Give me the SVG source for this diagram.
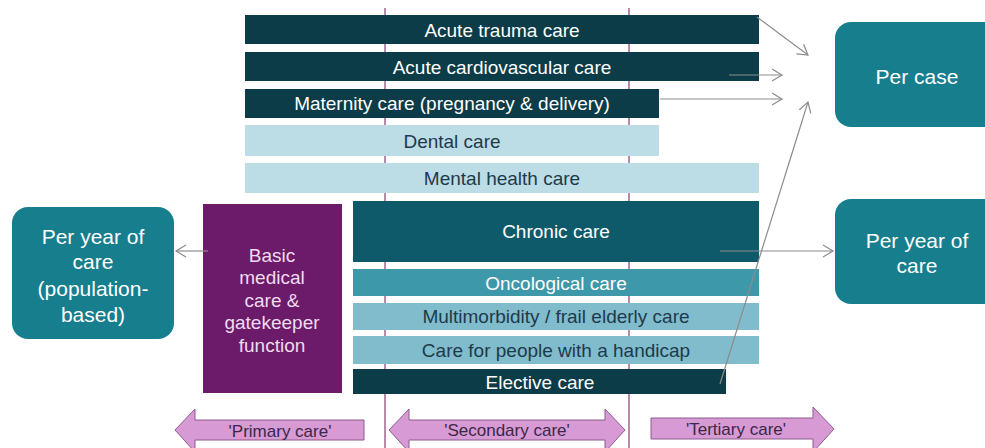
<svg xmlns="http://www.w3.org/2000/svg" width="985" height="448" viewBox="0 0 985 448">
<defs>
<style>
text{font-family:"Liberation Sans",Arial,sans-serif;text-anchor:middle;dominant-baseline:central}
.bar{font-size:19px}
.w{fill:#ffffff}
.d{fill:#1d3a4c}
.dark{fill:#0c3c48}
.light{fill:#bcdde5}
.chronic{fill:#0e5a6b}
.onco{fill:#3d98aa}
.mid{fill:#80bccb}
.box{fill:#177e8e}
.purple{fill:#6b1b69}
.vline{stroke:#8a3c72;stroke-width:1.2}
.conn{stroke:#8c8c8c;stroke-width:1.2;fill:none}
.band{fill:#d79ad5;stroke:#8c5a8c;stroke-width:1}
.bt{font-size:17px;fill:#3a2845}
.big{font-size:21px;fill:#ffffff}
</style>
<marker id="ah" markerWidth="14" markerHeight="14" refX="11" refY="7" orient="auto" markerUnits="userSpaceOnUse">
<path d="M1,1 L11,7 L1,13" fill="none" stroke="#8c8c8c" stroke-width="1.2"/>
</marker>
</defs>
<rect width="985" height="448" fill="#ffffff"/>
<g id="gridlines">
<line class="vline" x1="385" y1="8" x2="385" y2="448"/>
<line class="vline" x1="629" y1="8" x2="629" y2="448"/>
</g>
<g id="acute-trauma"><rect class="dark" x="245" y="15" width="514" height="29"/><text class="bar w" x="502" y="30">Acute trauma care</text></g>
<g id="acute-cardio"><rect class="dark" x="245" y="52" width="514" height="29"/><text class="bar w" x="502" y="67">Acute cardiovascular care</text></g>
<g id="maternity"><rect class="dark" x="245" y="89" width="414" height="29"/><text class="bar w" x="452" y="103">Maternity care (pregnancy &amp; delivery)</text></g>
<g id="dental"><rect class="light" x="245" y="125" width="414" height="31"/><text class="bar d" x="452" y="141">Dental care</text></g>
<g id="mental"><rect class="light" x="245" y="163" width="514" height="30"/><text class="bar d" x="502" y="178">Mental health care</text></g>
<g id="chronic"><rect class="chronic" x="353" y="201" width="406" height="61"/><text class="bar w" x="556" y="231">Chronic care</text></g>
<g id="oncological"><rect class="onco" x="353" y="269" width="406" height="27"/><text class="bar w" x="556" y="283">Oncological care</text></g>
<g id="multimorbidity"><rect class="mid" x="353" y="303" width="406" height="27"/><text class="bar d" x="556" y="316">Multimorbidity / frail elderly care</text></g>
<g id="handicap"><rect class="mid" x="353" y="336" width="406" height="28"/><text class="bar d" x="556" y="350">Care for people with a handicap</text></g>
<g id="elective"><rect class="dark" x="353" y="369" width="373" height="25"/><text class="bar w" x="540" y="382">Elective care</text></g>
<g id="basic-medical"><rect class="purple" x="203" y="204" width="139" height="189"/>
<text class="bar" fill="#f0dcef" x="272" y="255">Basic</text>
<text class="bar" fill="#f0dcef" x="272" y="277">medical</text>
<text class="bar" fill="#f0dcef" x="272" y="300">care &amp;</text>
<text class="bar" fill="#f0dcef" x="272" y="322">gatekeeper</text>
<text class="bar" fill="#f0dcef" x="272" y="345">function</text>
</g>
<g id="per-year-population"><rect class="box" x="12" y="207" width="162" height="132" rx="16"/>
<text class="big" x="93" y="236">Per year of</text>
<text class="big" x="93" y="261">care</text>
<text class="big" x="93" y="288">(population-</text>
<text class="big" x="93" y="314">based)</text>
</g>
<g id="per-case"><rect class="box" x="835" y="22" width="170" height="105" rx="16"/><text class="big" x="917" y="76">Per case</text></g>
<g id="per-year"><rect class="box" x="835" y="199" width="170" height="105" rx="16"/>
<text class="big" x="917" y="240">Per year of</text>
<text class="big" x="917" y="265">care</text>
</g>
<g id="connectors">
<line class="conn" x1="757" y1="17" x2="808" y2="55" marker-end="url(#ah)"/>
<line class="conn" x1="729" y1="75" x2="782" y2="75" marker-end="url(#ah)"/>
<line class="conn" x1="660" y1="99" x2="782" y2="99" marker-end="url(#ah)"/>
<line class="conn" x1="720" y1="384" x2="808" y2="102" marker-end="url(#ah)"/>
<line class="conn" x1="720" y1="251" x2="833" y2="251" marker-end="url(#ah)"/>
<line class="conn" x1="208" y1="251" x2="176" y2="251" marker-end="url(#ah)"/>
</g>
<g id="primary-care"><path class="band" d="M175,430 L195,409 L195,420 L364,420 L364,440 L195,440 L195,452 Z"/><text class="bt" x="280" y="431">'Primary care'</text></g>
<g id="secondary-care"><path class="band" d="M389,430 L409,409 L409,420 L605,420 L605,409 L625,430 L605,452 L605,440 L409,440 L409,452 Z"/><text class="bt" x="507" y="430">'Secondary care'</text></g>
<g id="tertiary-care"><path class="band" d="M651,418 L813,418 L813,407 L834,429 L813,452 L813,439 L651,439 Z"/><text class="bt" x="736" y="429">'Tertiary care'</text></g>
</svg>
